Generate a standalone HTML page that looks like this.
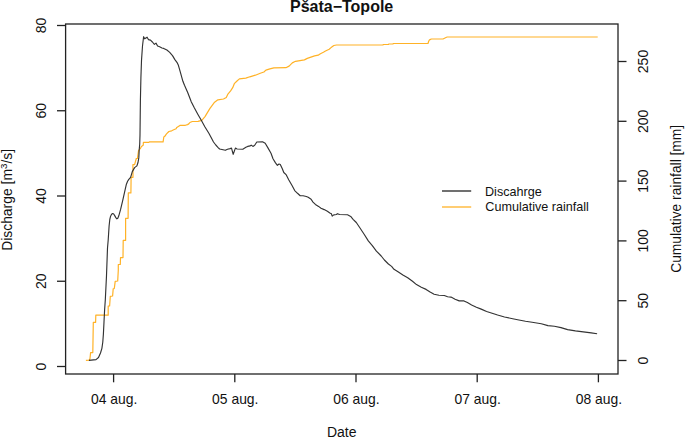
<!DOCTYPE html>
<html><head><meta charset="utf-8"><style>
html,body{margin:0;padding:0;background:#fff;}
svg{display:block;}
text{font-family:"Liberation Sans", sans-serif;fill:#111;}
</style></head><body>
<svg width="685" height="437" viewBox="0 0 685 437">
<rect width="685" height="437" fill="#fff"/>
<rect x="65.6" y="24.0" width="552.4" height="350.0" fill="none" stroke="#222" stroke-width="1.3"/>
<line x1="57" y1="366.50" x2="65.6" y2="366.50" stroke="#222" stroke-width="1.3"/>
<text transform="translate(46,366.50) rotate(-90)" text-anchor="middle" font-size="14">0</text>
<line x1="57" y1="281.25" x2="65.6" y2="281.25" stroke="#222" stroke-width="1.3"/>
<text transform="translate(46,281.25) rotate(-90)" text-anchor="middle" font-size="14">20</text>
<line x1="57" y1="196.00" x2="65.6" y2="196.00" stroke="#222" stroke-width="1.3"/>
<text transform="translate(46,196.00) rotate(-90)" text-anchor="middle" font-size="14">40</text>
<line x1="57" y1="110.75" x2="65.6" y2="110.75" stroke="#222" stroke-width="1.3"/>
<text transform="translate(46,110.75) rotate(-90)" text-anchor="middle" font-size="14">60</text>
<line x1="57" y1="25.50" x2="65.6" y2="25.50" stroke="#222" stroke-width="1.3"/>
<text transform="translate(46,25.50) rotate(-90)" text-anchor="middle" font-size="14">80</text>
<line x1="618.0" y1="360.5" x2="626.5" y2="360.5" stroke="#222" stroke-width="1.3"/>
<text transform="translate(648.0,360.5) rotate(-90)" text-anchor="middle" font-size="14">0</text>
<line x1="618.0" y1="300.7" x2="626.5" y2="300.7" stroke="#222" stroke-width="1.3"/>
<text transform="translate(648.0,300.7) rotate(-90)" text-anchor="middle" font-size="14">50</text>
<line x1="618.0" y1="240.9" x2="626.5" y2="240.9" stroke="#222" stroke-width="1.3"/>
<text transform="translate(648.0,240.9) rotate(-90)" text-anchor="middle" font-size="14">100</text>
<line x1="618.0" y1="181.1" x2="626.5" y2="181.1" stroke="#222" stroke-width="1.3"/>
<text transform="translate(648.0,181.1) rotate(-90)" text-anchor="middle" font-size="14">150</text>
<line x1="618.0" y1="121.3" x2="626.5" y2="121.3" stroke="#222" stroke-width="1.3"/>
<text transform="translate(648.0,121.3) rotate(-90)" text-anchor="middle" font-size="14">200</text>
<line x1="618.0" y1="61.5" x2="626.5" y2="61.5" stroke="#222" stroke-width="1.3"/>
<text transform="translate(648.0,61.5) rotate(-90)" text-anchor="middle" font-size="14">250</text>
<line x1="113.6" y1="374.0" x2="113.6" y2="382.3" stroke="#222" stroke-width="1.3"/>
<text x="114.1" y="403.5" text-anchor="middle" font-size="13.9">04 aug.</text>
<line x1="234.8" y1="374.0" x2="234.8" y2="382.3" stroke="#222" stroke-width="1.3"/>
<text x="235.3" y="403.5" text-anchor="middle" font-size="13.9">05 aug.</text>
<line x1="356.0" y1="374.0" x2="356.0" y2="382.3" stroke="#222" stroke-width="1.3"/>
<text x="356.5" y="403.5" text-anchor="middle" font-size="13.9">06 aug.</text>
<line x1="477.2" y1="374.0" x2="477.2" y2="382.3" stroke="#222" stroke-width="1.3"/>
<text x="477.7" y="403.5" text-anchor="middle" font-size="13.9">07 aug.</text>
<line x1="598.4" y1="374.0" x2="598.4" y2="382.3" stroke="#222" stroke-width="1.3"/>
<text x="598.9" y="403.5" text-anchor="middle" font-size="13.9">08 aug.</text>
<text transform="translate(341.6,12.1)" text-anchor="middle" font-size="16" font-weight="bold">Pšata−Topole</text>
<text x="341.7" y="436.8" text-anchor="middle" font-size="14">Date</text>
<text transform="translate(12.3,199.9) rotate(-90)" text-anchor="middle" font-size="13.9">Discharge [m<tspan font-size="9.8" dy="-5">3</tspan><tspan dy="5">/s]</tspan></text>
<text transform="translate(680.9,198.8) rotate(-90)" text-anchor="middle" font-size="13.8">Cumulative rainfall [mm]</text>
<line x1="442" y1="191" x2="471.2" y2="191" stroke="#333" stroke-width="1.4"/>
<line x1="442" y1="207" x2="471.2" y2="207" stroke="#FFA500" stroke-opacity="0.85" stroke-width="1.3"/>
<text x="485" y="195.7" font-size="12.6">Discahrge</text>
<text x="485.3" y="210.8" font-size="12.6">Cumulative rainfall</text>
<polyline points="85.9,360.4 89.3,360.2 90.0,358.5 90.6,352.6 92.8,352.6 93.3,322.4 95.6,322.4 95.8,315.2 108.2,315.2 108.2,306.0 109.6,306.0 110.3,296.3 112.6,296.0 113.2,288.9 114.3,288.5 115.2,281.4 117.7,281.0 118.3,270.0 118.3,264.5 120.3,264.5 120.5,257.6 123.0,257.6 123.2,240.4 125.6,240.4 125.6,218.3 128.1,218.3 128.3,192.9 130.9,192.9 131.1,177.3 133.0,177.3 132.9,164.7 134.6,164.7 136.3,158.5 137.4,158.5 138.6,150.4 140.3,148.7 141.4,146.4 143.2,145.3 143.4,142.4 149.0,142.4 149.2,141.9 163.1,141.9 163.8,137.0 164.8,136.3 166.5,133.9 168.9,131.5 171.7,130.8 173.7,129.8 176.1,128.7 176.8,127.4 179.9,125.4 185.4,125.3 187.5,124.6 188.8,123.9 189.9,122.5 192.3,121.5 198.0,121.3 201.8,120.3 205.0,116.6 207.4,112.6 209.8,108.6 212.2,105.4 214.6,102.2 217.9,99.8 223.5,99.0 226.3,97.4 227.9,94.1 230.6,90.9 232.7,87.7 234.3,83.7 237.0,81.0 239.4,78.9 245.8,78.1 249.8,76.8 255.4,75.2 260.3,73.3 263.9,72.0 265.9,70.1 269.9,68.9 273.9,67.8 285.9,67.7 289.1,66.1 292.3,62.9 295.5,61.3 300.0,60.6 304.4,59.9 307.3,58.4 310.9,57.1 314.6,55.9 318.2,55.2 320.4,53.7 323.4,52.2 325.5,51.0 329.2,49.3 330.7,47.9 332.1,46.8 333.9,45.5 336.5,45.0 383.0,45.0 383.2,44.5 388.5,44.5 388.7,44.0 393.0,44.0 393.2,43.5 428.0,43.5 428.6,41.5 429.2,40.2 430.0,39.6 431.4,39.0 443.0,39.0 444.5,38.2 446.5,37.3 447.3,37.0 597.7,37.0" fill="none" stroke="#FFA500" stroke-opacity="0.85" stroke-width="1.2" stroke-linejoin="round"/>
<polyline points="88.9,360.4 96.0,359.6 98.5,357.5 100.5,353.0 101.9,348.3 102.8,342.0 103.4,334.0 104.0,322.0 104.6,310.0 105.3,300.0 106.5,275.8 107.5,248.0 108.2,240.0 109.1,226.0 109.8,219.5 110.6,216.2 111.6,214.3 112.7,213.5 113.7,214.0 114.7,215.6 116.0,217.9 116.9,218.8 117.8,218.2 118.8,215.8 120.6,209.4 122.8,200.2 125.2,189.3 126.4,184.2 127.6,181.2 128.8,179.4 130.6,177.3 132.3,171.6 134.6,167.6 136.9,165.9 138.0,162.5 138.8,157.9 139.2,149.9 139.7,144.2 140.0,135.0 140.4,100.0 140.9,78.0 141.5,60.4 142.5,46.0 143.6,36.7 144.7,38.8 147.1,37.2 148.4,39.6 150.5,40.1 152.4,42.0 154.4,44.4 156.0,43.1 157.6,46.0 159.6,46.8 162.0,48.0 163.7,48.4 166.9,50.0 169.7,52.4 172.5,55.6 174.9,59.6 177.3,62.9 178.4,65.3 180.2,71.7 182.9,81.3 184.5,85.3 187.7,92.5 190.6,100.0 191.1,101.4 194.3,107.8 197.8,114.2 201.0,119.8 205.0,127.0 209.0,133.5 212.2,139.5 213.5,142.0 215.8,145.0 217.9,147.3 219.6,149.0 223.1,149.7 225.3,150.3 227.5,149.2 230.1,148.6 231.5,148.1 233.2,154.3 235.4,148.1 237.1,149.0 242.8,149.2 245.9,147.3 247.7,146.4 250.3,145.9 251.2,145.1 252.9,146.4 254.7,145.3 256.8,142.0 262.5,141.8 265.2,143.3 267.8,147.6 271.0,153.2 273.0,158.8 275.5,162.9 277.4,165.3 279.0,164.0 280.3,164.5 282.2,168.5 283.8,172.5 286.3,174.9 288.7,179.7 291.9,185.3 294.7,190.6 297.5,193.3 300.2,195.7 303.1,195.7 306.3,196.5 308.2,197.3 311.1,199.2 313.0,202.1 315.4,204.4 318.6,206.4 321.0,208.2 324.2,209.6 327.4,211.3 329.8,212.9 331.4,213.7 332.2,216.1 333.8,214.9 336.3,214.5 337.5,213.7 339.5,214.5 347.5,214.8 350.7,216.4 353.1,219.3 356.3,222.5 359.5,227.3 364.3,234.5 368.3,240.9 372.3,245.7 376.4,251.2 381.2,256.0 384.4,260.0 388.4,264.0 391.6,266.4 394.0,269.3 398.0,271.7 402.9,274.9 407.7,277.7 412.5,281.3 416.5,284.6 421.3,287.3 426.1,289.4 430.1,292.1 434.1,294.2 438.9,295.3 444.3,295.5 447.6,296.7 451.0,297.1 455.1,299.2 459.2,300.9 464.0,300.9 467.4,302.6 471.6,305.0 476.4,307.2 481.2,309.1 486.6,311.5 492.1,313.2 497.6,315.0 504.5,317.0 512.7,318.7 518.9,320.0 525.5,321.3 532.1,322.3 541.3,323.7 547.9,325.6 554.4,326.3 561.0,327.6 567.6,329.6 575.4,330.9 583.3,331.9 591.2,332.9 597.1,333.8" fill="none" stroke="#333" stroke-width="1.15" stroke-linejoin="round"/>
</svg>
</body></html>
